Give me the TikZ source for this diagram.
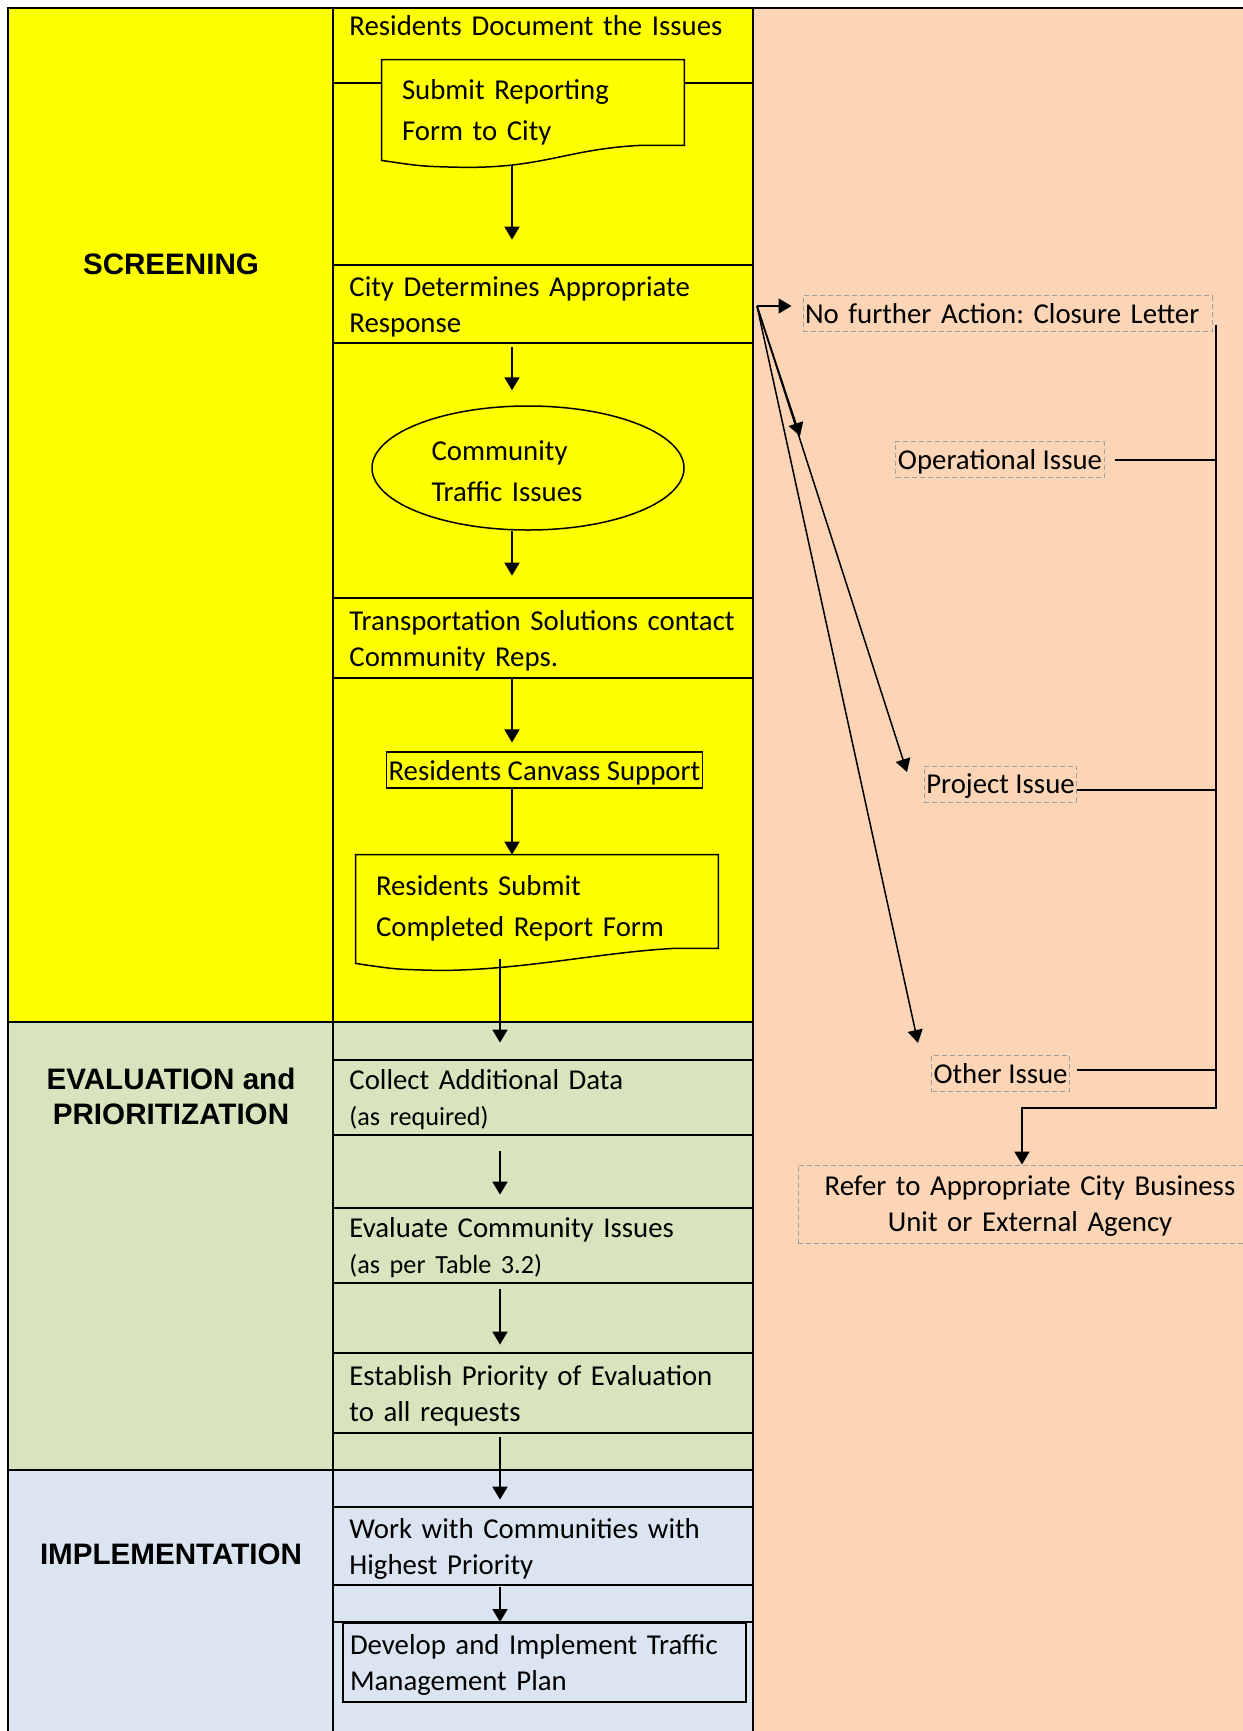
\documentclass[tikz,border=0pt]{standalone}
\usepackage{fontspec}
\setmainfont{Carlito}
\newfontfamily\headfont{Liberation Sans}
\usepackage{tikz}
\usetikzlibrary{
  arrows.meta,
  positioning,
  calc,
  shapes.geometric
}

\definecolor{ScreenYellow}{HTML}{FFFF00}
\definecolor{EvalGreen}{HTML}{D7E4BD}
\definecolor{ImplBlue}{HTML}{DBE5F1}
\definecolor{SidePeach}{HTML}{FBD5B5}

\newcommand{\bodyfont}{\fontsize{14.4pt}{18pt}\selectfont}
\newcommand{\notefont}{\fontsize{13.1pt}{18pt}\selectfont}
\newcommand{\shapefont}{\fontsize{14.4pt}{20.5pt}\selectfont}
\newcommand{\stagefont}{\headfont\bfseries\fontsize{14.8pt}{17.5pt}\selectfont}

% document symbol with a wavy foot
\newcommand{\docshape}[1]{%
  \draw[docline] (#1.north west) -- (#1.north east) -- (#1.south east) -- ++(-45,0)
    .. controls +(-73,4) and +(80,0) .. ([shift={(84,22)}]#1.south west)
    .. controls +(-44,-1) .. ([shift={(0,15)}]#1.south west) -- cycle;}

\tikzset{
  lane/.style    = {line width = 1pt},
  link/.style    = {line width = 1pt},
  flow/.style    = {line width = 1pt, -{Triangle[length = 6.5pt, width = 7.5pt]}},
  fork/.style    = {line width = 0.75pt, -{Triangle[length = 6.5pt, width = 7.5pt]}},
  docline/.style = {line width = 0.75pt},
  cell/.style    = {anchor = west, text width = 200pt, inner xsep = 8pt, inner ysep = 0pt,
                    text height = 13pt, text depth = 21pt,
                    minimum height = #1, align = left, font = \bodyfont},
  stage/.style   = {align = center, font = \stagefont},
  issue/.style   = {draw = gray!75, dash pattern = on 2.5pt off 1.5pt, line width = 0.5pt,
                    inner xsep = 1pt, inner ysep = 0pt, minimum height = 18pt,
                    text height = 13pt, text depth = 3.5pt, font = \bodyfont}
}

\begin{document}
\frenchspacing
\begin{tikzpicture}[x = 0.5pt, y = -0.5pt]
  \useasboundingbox (0,0) rectangle (1243,1731);
  \fill[white] (0,0) rectangle (1243,1731);

  % Lanes
  \fill[ScreenYellow] (8,8)    rectangle (753,1022);
  \fill[EvalGreen]    (8,1022) rectangle (753,1470);
  \fill[ImplBlue]     (8,1470) rectangle (753,1731);
  \fill[SidePeach]    (753,8)  rectangle (1243,1731);

  \draw[lane] (8,1731) -- (8,8) -- (1243,8);
  \draw[lane] (333,8) -- (333,1731);
  \draw[lane] (753,8) -- (753,1731);
  \draw[lane] (8,1022) -- (753,1022);
  \draw[lane] (8,1470) -- (753,1470);
  \foreach \y in {83,265,343,598,678,1060,1135,1208,1283,1353,1433,1507,1585,1622}
    \draw[lane] (333,\y) -- (753,\y);

  % Stage names
  \node[stage] (screening)      at (171,264)  {SCREENING};
  \node[stage] (evaluation)     at (171,1096) {EVALUATION and\\PRIORITIZATION};
  \node[stage] (implementation) at (171,1554) {IMPLEMENTATION};

  % Screening
  \node[cell = 18pt, text depth = 5pt] (document) at (333,27) {Residents Document the Issues};
  \node[fill = ScreenYellow, minimum width = 151pt, minimum height = 42.5pt, text width = 131pt,
        inner xsep = 10pt, inner ysep = 0pt, text height = 18.5pt, text depth = 22pt,
        align = left, font = \shapefont]
        (submitform) at (533,102.5) {Submit Reporting\\Form to City};
  \docshape{submitform}
  \node[cell = 39pt] (city)     at (333,304) {City Determines Appropriate\\Response};
  \node[ellipse, draw, line width = 0.75pt, minimum width = 156pt, minimum height = 62pt,
        inner sep = 0pt, text width = 96.5pt, text height = 15pt, text depth = 22.5pt,
        align = left, font = \shapefont]
        (issues) at (528,468) {Community\\Traffic Issues};
  \node[cell = 40pt] (transp)   at (333,638) {Transportation Solutions contact\\Community Reps.};
  \node[draw, line width = 0.6pt, inner xsep = 1pt, inner ysep = 0pt, minimum height = 18pt,
        text height = 13pt, text depth = 3pt, font = \bodyfont]
        (canvass) at (544.5,770) {Residents Canvass Support};
  \node[fill = ScreenYellow, minimum width = 181pt, minimum height = 46.5pt, text width = 161pt,
        inner xsep = 10pt, inner ysep = 0pt, text height = 17.5pt, text depth = 24pt,
        align = left, font = \shapefont]
        (resform) at (537,901.5) {Residents Submit\\Completed Report Form};
  \docshape{resform}

  % Evaluation and prioritization
  \node[cell = 37.5pt] (collect)   at (333,1097.5) {Collect Additional Data\\{\notefont (as required)}};
  \node[cell = 37.5pt] (evaluate)  at (333,1245.5) {Evaluate Community Issues\\{\notefont (as per Table 3.2)}};
  \node[cell = 40pt]   (establish) at (333,1393)   {Establish Priority of Evaluation\\to all requests};

  % Implementation
  \node[cell = 39pt] (work) at (333,1546) {Work with Communities with\\Highest Priority};
  \node[draw, line width = 1pt, minimum width = 201.5pt, minimum height = 39.5pt, text width = 194.5pt,
        inner xsep = 3.5pt, inner ysep = 0pt, text height = 13pt, text depth = 21.5pt,
        align = left, font = \bodyfont]
        (develop) at (544.5,1662.5) {Develop and Implement Traffic\\Management Plan};

  % Main flow
  \coordinate (axisA) at (512,0);
  \coordinate (axisB) at (500,0);
  \draw[flow, shorten <= 10pt, shorten >= 12.5pt] (submitform.south -| axisA) -- (city.north -| axisA);
  \draw[flow, shorten <= 2pt, shorten >= 7.5pt]   (city.south -| axisA) -- (issues.north -| axisA);
  \draw[flow, shorten >= 11pt]                    (issues.south -| axisA) -- (transp.north -| axisA);
  \draw[flow, shorten >= 4.5pt]                   (transp.south -| axisA) -- (canvass.north -| axisA);
  \draw[flow]                                     (canvass.south -| axisA) -- (resform.north -| axisA);
  \draw[flow, shorten <= 5.5pt, shorten >= 8.5pt] (resform.south -| axisB) -- (collect.north -| axisB);
  \draw[flow, shorten <= 8pt, shorten >= 6.5pt]   (collect.south -| axisB) -- (evaluate.north -| axisB);
  \draw[flow, shorten <= 3pt, shorten >= 4pt]     (evaluate.south -| axisB) -- (establish.north -| axisB);
  \draw[flow, shorten <= 2pt, shorten >= 3.5pt]   (establish.south -| axisB) -- (work.north -| axisB);
  \draw[flow, shorten <= 1pt]                     (work.south -| axisB) -- (develop.north -| axisB);

  % Response options
  \node[issue, minimum width = 204.5pt, text width = 202.5pt, align = left]
        (closure) at (1007.5,313.5) {No further Action: Closure Letter};
  \node[issue] (opissue)    at (1000,459.5)  {Operational Issue};
  \node[issue] (projissue)  at (1000.5,784)  {Project Issue};
  \node[issue] (otherissue) at (1000.5,1073.5) {Other Issue};
  \node[issue, minimum width = 232pt, minimum height = 39pt, text width = 230pt, text depth = 22pt,
        align = center]
        (refer) at (1030,1204) {Refer to Appropriate City Business\\Unit or External Agency};

  \coordinate (fork)      at (757,306);
  \coordinate (optip)     at (800,436);
  \coordinate (projtip)   at (907,772);
  \coordinate (othertip)  at (918,1043);
  \draw[fork, shorten >= 5.5pt] (fork) -- (fork -| closure.west);
  \draw[fork] (fork) -- (optip);
  \draw[fork] (fork) -- (projtip);
  \draw[fork] (fork) -- (othertip);

  % Referral rail
  \coordinate (rail) at (1216,0);
  \coordinate (drop) at (1022,1108);
  \draw[link, shorten <= 5pt] (opissue.east) -- (opissue.east -| rail);
  \draw[link] ([yshift = -3pt]projissue.east) -- ([yshift = -3pt]projissue.east -| rail);
  \draw[link, shorten <= 3.5pt] ([yshift = 2pt]otherissue.east) -- ([yshift = 2pt]otherissue.east -| rail);
  \draw[flow] (closure.south -| rail) ++(0,-7) |- (drop) -- (drop |- refer.north);
\end{tikzpicture}
\end{document}
